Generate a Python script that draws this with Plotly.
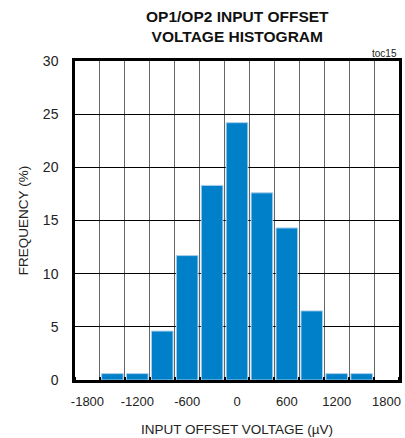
import plotly.graph_objects as go

# bin centers (uV) and frequency (%)
bin_centers = [-1500, -1200, -900, -600, -300, 0, 300, 600, 900, 1200, 1500]
frequency = [0.6, 0.6, 4.6, 11.7, 18.3, 24.2, 17.6, 14.3, 6.5, 0.6, 0.6]

x_ticks = [-1800, -1200, -600, 0, 600, 1200, 1800]
y_ticks = [0, 5, 10, 15, 20, 25, 30]

font_family = "Liberation Sans, Arial, sans-serif"

fig = go.Figure(go.Bar(
    x=bin_centers,
    y=frequency,
    width=260,
    marker=dict(color="#0080C8", line=dict(color="#A8CFEA", width=1)),
))

fig.update_layout(
    width=405,
    height=438,
    paper_bgcolor="white",
    plot_bgcolor="white",
    margin=dict(l=75, r=6, t=61, b=58),
    showlegend=False,
    font=dict(family=font_family, size=12, color="#222"),
    annotations=[
        # title as annotation (multi-line title positioning is unreliable)
        dict(text="<b>OP1/OP2 INPUT OFFSET<br>VOLTAGE HISTOGRAM</b>",
             xref="paper", yref="paper", x=0.5, y=1, yshift=14,
             xanchor="center", yanchor="bottom", showarrow=False,
             font=dict(size=15.5, color="#111")),
        dict(text="toc15", xref="paper", yref="paper", x=1, y=1,
             xanchor="right", yanchor="bottom", showarrow=False,
             font=dict(size=10, color="#222")),
    ],
)

fig.update_xaxes(
    range=[-1950, 1950],
    tickvals=x_ticks,
    ticktext=[str(v) for v in x_ticks],
    tickfont=dict(size=13),
    showgrid=False,
    zeroline=False,
    automargin=False,
    showline=True, mirror=True, linecolor="black", linewidth=2.5,
    ticks="", ticklabelstandoff=8,
    minor=dict(tick0=-1650, dtick=300, showgrid=True, gridcolor="#666666", gridwidth=1,
               ticks="inside", ticklen=3, tickwidth=2, tickcolor="black"),
    title=dict(text="INPUT OFFSET VOLTAGE (µV)", standoff=17, font=dict(size=13.5)),
)

fig.update_yaxes(
    range=[0, 30],
    tickvals=y_ticks,
    tickfont=dict(size=14),
    showgrid=True, gridcolor="black", gridwidth=1,
    zeroline=False,
    automargin=False,
    showline=True, mirror=True, linecolor="black", linewidth=2.5,
    ticks="", ticklabelstandoff=11,
    title=dict(text="FREQUENCY (%)", standoff=12, font=dict(size=13.5)),
)

fig.write_html("out.html", config={"displayModeBar": False},
               post_script="document.body.style.margin='0';")
